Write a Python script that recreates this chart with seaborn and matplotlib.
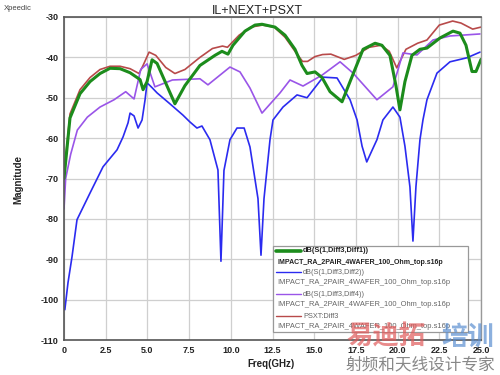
import numpy as np
import pandas as pd
import matplotlib
matplotlib.use("Agg")
import matplotlib.pyplot as plt
from matplotlib.lines import Line2D
from matplotlib.patches import Rectangle
import seaborn as sns

# ---- data ----
green_f = [0, 0.12, 0.36, 0.96, 1.56, 2.16, 2.76, 3.36, 3.96, 4.56, 4.74, 4.98, 5.28, 5.58, 6.06,
           6.65, 7.25, 8.15, 9.05, 9.47, 9.83, 10.13, 10.85, 11.45, 11.87, 12.65, 13.25, 13.85,
           14.27, 14.57, 15.05, 15.47, 15.95, 16.67, 17.15, 17.93, 18.65, 19.06, 19.54, 19.9,
           20.14, 20.44, 20.86, 21.34, 21.76, 22.54, 23.32, 23.74, 24.1, 24.46, 24.7, 25.0]
green_v = [-70, -65, -55, -49, -46, -44, -42.7, -42.8, -43.8, -45.5, -48, -46, -40.6, -41.5, -46,
           -51.5, -47, -42, -39.5, -38.5, -39.2, -37, -33.5, -32, -31.8, -32.5, -34.5, -38,
           -42, -44, -43.6, -45, -48.5, -51, -46, -38, -36.5, -37, -39.5, -47,
           -53, -46, -39.5, -38, -37.7, -35.2, -33.5, -34, -37, -43.5, -43.5, -40.5]

blue_f = [0.05, 0.24, 0.48, 0.78, 1.56, 2.34, 3.18, 3.54, 3.84, 3.96, 4.2, 4.44, 4.68, 4.86, 4.98,
          5.28, 5.58, 6.35, 7.13, 7.55, 7.97, 8.27, 8.75, 9.23, 9.41, 9.59, 9.95, 10.37, 10.8,
          11.15, 11.63, 11.81, 11.99, 12.35, 12.53, 13.13, 13.97, 14.57, 15.53, 16.37, 17.15,
          17.57, 17.87, 18.15, 18.47, 18.76, 19.12, 19.72, 20.14, 20.44, 20.74, 20.92, 21.1,
          21.34, 21.52, 21.76, 22.36, 23.14, 24.16, 24.94]
blue_v = [-102.5, -95.8, -89.4, -80.2, -73.6, -67.1, -62.9, -59.7, -56.2, -53.8, -54.5, -57.5, -55.5, -50.5, -46.3,
          -47.5, -48.8, -51.5, -54.3, -56, -57.5, -57, -60.4, -67.9, -90.5, -68, -60.4, -57.5, -57.5,
          -62.2, -75, -89, -75, -60.4, -55.5, -52.3, -49.3, -50, -44.9, -45.1, -50.5,
          -55.5, -62, -65.9, -63, -60.4, -55.5, -52.3, -54.8, -62, -72.1, -85.5, -72,
          -60.4, -55.5, -50.5, -43.9, -41.1, -40.1, -38.7]

purple_f = [0, 0.1, 0.4, 0.8, 1.4, 2.16, 3.0, 3.7, 4.2, 4.6, 4.98, 5.45, 6.5, 8.15, 8.63, 9.95,
            10.55, 11.15, 11.87, 12.95, 13.55, 14.33, 15.47, 16.55, 17.33, 18.76, 19.72, 20.32,
            21.16, 22.12, 23.14, 24.94]
purple_v = [-77.5, -70, -64, -58, -54.8, -52.3, -50.5, -48.5, -50.3, -43, -41.6, -47.3, -45.6, -45.3, -46.8, -42.4,
            -43.6, -47.6, -53.8, -48.8, -45.6, -47.1, -44.4, -41.1, -43.9, -50.5, -47.3, -38.9,
            -39.4, -35.7, -34.7, -34.2]

red_f = [0, 0.12, 0.36, 0.96, 1.56, 2.16, 2.76, 3.36, 3.96, 4.5, 4.74, 5.1, 5.5, 6.1, 6.65, 7.25,
         8.15, 8.9, 9.5, 9.8, 10.5, 11.2, 11.9, 12.6, 13.25, 13.85, 14.3, 14.6, 15.05, 15.5, 16.0,
         16.8, 17.5, 18.3, 19.0, 19.5, 19.95, 20.5, 21.2, 21.76, 22.5, 23.3, 23.8, 24.5, 25.0]
red_v = [-70, -64, -54, -48, -45, -43, -42.2, -42.2, -42.8, -44, -42, -38.7, -39.5, -42.5, -44, -43,
         -40, -37.8, -37.2, -37.5, -34.5, -32.5, -32, -32.5, -35, -38.5, -41, -41, -39.8, -39.3, -39.2,
         -40.5, -39.5, -37.5, -37, -38.5, -42.6, -38, -36.5, -35.7, -32, -31, -31.5, -33, -32.5]

series_names = ["dB(S(1,Diff3,Diff1))", "dB(S(1,Diff3,Diff2))", "dB(S(1,Diff3,Diff4))", "PSXT:Diff3"]
file_label = "IMPACT_RA_2PAIR_4WAFER_100_Ohm_top.s16p"
x_ticks = [0, 2.5, 5.0, 7.5, 10.0, 12.5, 15.0, 17.5, 20.0, 22.5, 25.0]
x_tick_labels = ["0", "2.5", "5.0", "7.5", "10.0", "12.5", "15.0", "17.5", "20.0", "22.5", "25.0"]
y_ticks = [-110, -100, -90, -80, -70, -60, -50, -40, -30]

colors = ["#1c8c1c", "#2b2bf0", "#9a55e8", "#b84a4a"]
widths = [2.2, 1.2, 1.2, 1.2]

sns.set_theme(style="white")
plt.rcParams['font.family'] = ['Liberation Sans', 'DejaVu Sans']

fig = plt.figure(figsize=(5, 3.75), dpi=100)
ax = fig.add_axes([64/500, 1-340/375, 417/500, 323/375])

data = [(red_f, red_v, 3), (purple_f, purple_v, 2), (blue_f, blue_v, 1), (green_f, green_v, 0)]
for f, v, i in data:
    df = pd.DataFrame({"f": f, "v": v})
    sns.lineplot(data=df, x="f", y="v", ax=ax, color=colors[i], linewidth=widths[i],
                 sort=False, estimator=None, legend=False)

ax.set_xlim(0, 25)
ax.set_ylim(-110, -30)
ax.set_xticks(x_ticks)
ax.set_xticklabels(x_tick_labels)
ax.set_yticks(y_ticks)
ax.set_yticklabels([str(t) for t in y_ticks])
ax.grid(True, color="#cfcfcf", linewidth=0.9)
ax.set_axisbelow(True)
for s in ["left", "bottom", "top"]:
    ax.spines[s].set_color("#555555")
    ax.spines[s].set_linewidth(1.2)
ax.spines["right"].set_color("#999999")
ax.spines["right"].set_linewidth(1.0)
ax.tick_params(axis="both", labelsize=6.5, length=2, width=0.8, color="#555555", pad=2)
for lab in ax.get_xticklabels() + ax.get_yticklabels():
    lab.set_fontweight("bold")
    lab.set_color("#222222")
ax.set_xlabel("")
ax.set_ylabel("")

fig.text(271/500, 1-364/375, "Freq(GHz)", ha="center", va="center", fontsize=7, fontweight="bold", color="#222222")
fig.text(18/500, 1-180/375, "Magnitude", ha="center", va="center", rotation=90, fontsize=7, fontweight="bold", color="#222222")
fig.text(257/500, 1-11/375, "IL+NEXT+PSXT", ha="center", va="center", fontsize=9, color="#222222")
fig.text(4/500, 1-8/375, "Xpeedic", ha="left", va="center", fontsize=5.5, color="#444444")

# ---- legend (custom layout: file name below each entry) ----
def fx(px):
    return px / 500
def fy(py):
    return 1 - py / 375

fig.add_artist(Rectangle((fx(273), fy(332)), fx(468) - fx(273), fy(246) - fy(332),
                         transform=fig.transFigure, facecolor="white", edgecolor="#999999",
                         linewidth=0.9, zorder=5))
entry_y = [251, 272, 294, 316]
for i, (name, yy) in enumerate(zip(series_names, entry_y)):
    fig.add_artist(Line2D([fx(276), fx(301)], [fy(yy), fy(yy)], transform=fig.transFigure,
                          color=colors[i], linewidth=(2.6 if i == 0 else 1.0), zorder=6))
    bold = (i == 0)
    tc = "#222222" if bold else "#666666"
    fig.text(fx(303), fy(yy), name, ha="left", va="center", fontsize=5.3,
             fontweight=("bold" if bold else "normal"), color=tc, zorder=7)
    fig.text(fx(277), fy(yy + 11), file_label, ha="left", va="center",
             fontsize=(5.0 if bold else 5.4),
             fontweight=("bold" if bold else "normal"), color=tc, zorder=7)

# ---- watermark ----
wm_font = ['Noto Sans CJK SC', 'DejaVu Sans']
fig.text(fx(346), fy(337), "易迪拓", ha="left", va="center", fontsize=19, fontweight="bold",
         color="#e05a5a", alpha=0.7, family=wm_font, zorder=8)
fig.text(fx(441), fy(337), "培训", ha="left", va="center", fontsize=19, fontweight="bold",
         color="#5b8fd0", alpha=0.7, family=wm_font, zorder=8)
fig.text(fx(346), fy(365), "射频和天线设计专家", ha="left", va="center", fontsize=12,
         color="#888888", family=wm_font, zorder=8)

fig.savefig("out.png", dpi=100, facecolor="white")
